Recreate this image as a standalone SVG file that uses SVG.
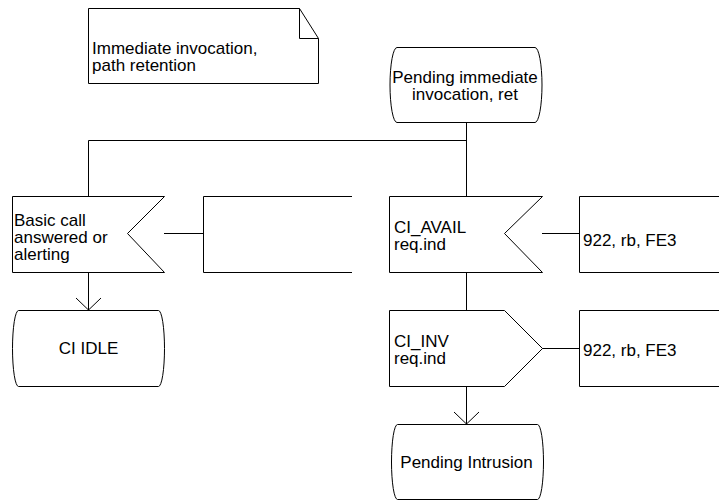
<svg xmlns="http://www.w3.org/2000/svg" width="719" height="502" viewBox="0 0 719 502">
  <style>
    .shape { fill: #ffffff; stroke: #000000; stroke-width: 1; }
    .line { fill: none; stroke: #000000; stroke-width: 1; }
    text { font-family: "Liberation Sans", Arial, sans-serif; font-size: 17px; fill: #000000; }
    .mid { text-anchor: middle; }
  </style>

  <rect width="719" height="502" fill="#ffffff"/>

  <!-- flow lines and open arrowheads -->
  <g id="connectors">
    <path class="line" d="M466.5,122 V196"/>
    <path class="line" d="M88.5,140.5 H466.5"/>
    <path class="line" d="M88.5,140.5 V196"/>
    <path class="line" d="M88.5,272 V310"/>
    <path class="line" d="M76,298 L88.5,310 L101,298"/>
    <path class="line" d="M164,233.5 H203"/>
    <path class="line" d="M542,233.5 H579"/>
    <path class="line" d="M466.5,272 V310"/>
    <path class="line" d="M542,348.5 H579"/>
    <path class="line" d="M466.5,386 V424"/>
    <path class="line" d="M454,412 L466.5,424 L479,412"/>
  </g>

  <!-- text annotation with folded corner -->
  <g id="note">
    <path class="shape" d="M88.5,8.5 H299.5 L318.5,38.5 V83.5 H88.5 Z"/>
    <path class="line" d="M299.5,8.5 V38.5 H318.5"/>
    <text x="92" y="54">Immediate invocation,</text>
    <text x="92" y="71">path retention</text>
  </g>

  <!-- state: Pending immediate invocation, ret -->
  <g id="state-pending-immediate">
    <path class="shape" d="M397,47.5 H535 A7,37.5 0 0 1 535,122.5 H397 A7,37.5 0 0 1 397,47.5 Z"/>
    <text class="mid" x="465" y="83">Pending immediate</text>
    <text class="mid" x="465" y="100">invocation, ret</text>
  </g>

  <!-- input: Basic call answered or alerting -->
  <g id="input-basic-call">
    <path class="shape" d="M12.5,196.5 H164.5 L127.5,233.5 L164.5,272.5 H12.5 Z"/>
    <text x="14" y="226">Basic call</text>
    <text x="14" y="243">answered or</text>
    <text x="14" y="260">alerting</text>
  </g>

  <!-- empty comment bracket -->
  <g id="comment-empty">
    <path class="line" d="M352,196.5 H203.5 V272.5 H352"/>
  </g>

  <!-- state: CI IDLE -->
  <g id="state-ci-idle">
    <path class="shape" d="M18.5,310.5 H158.5 A6,38 0 0 1 158.5,386.5 H18.5 A6,38 0 0 1 18.5,310.5 Z"/>
    <text class="mid" x="88.5" y="354">CI IDLE</text>
  </g>

  <!-- input: CI_AVAIL req.ind -->
  <g id="input-ci-avail">
    <path class="shape" d="M389.5,196.5 H542.5 L504.5,233.5 L542.5,272.5 H389.5 Z"/>
    <text x="394" y="233">CI_AVAIL</text>
    <text x="394" y="250">req.ind</text>
  </g>

  <g id="comment-avail">
    <path class="line" d="M719,196.5 H579.5 V272.5 H719"/>
    <text x="583" y="246">922, rb, FE3</text>
  </g>

  <!-- output: CI_INV req.ind -->
  <g id="output-ci-inv">
    <path class="shape" d="M389.5,310.5 H504.5 L542.5,348.5 L504.5,386.5 H389.5 Z"/>
    <text x="394" y="347">CI_INV</text>
    <text x="394" y="364">req.ind</text>
  </g>

  <g id="comment-inv">
    <path class="line" d="M719,310.5 H579.5 V386.5 H719"/>
    <text x="583" y="356">922, rb, FE3</text>
  </g>

  <!-- state: Pending Intrusion -->
  <g id="state-pending-intrusion">
    <path class="shape" d="M397.5,424.5 H537.5 A6,37.5 0 0 1 537.5,499.5 H397.5 A6,37.5 0 0 1 397.5,424.5 Z"/>
    <text class="mid" x="466.5" y="468">Pending Intrusion</text>
  </g>
</svg>
